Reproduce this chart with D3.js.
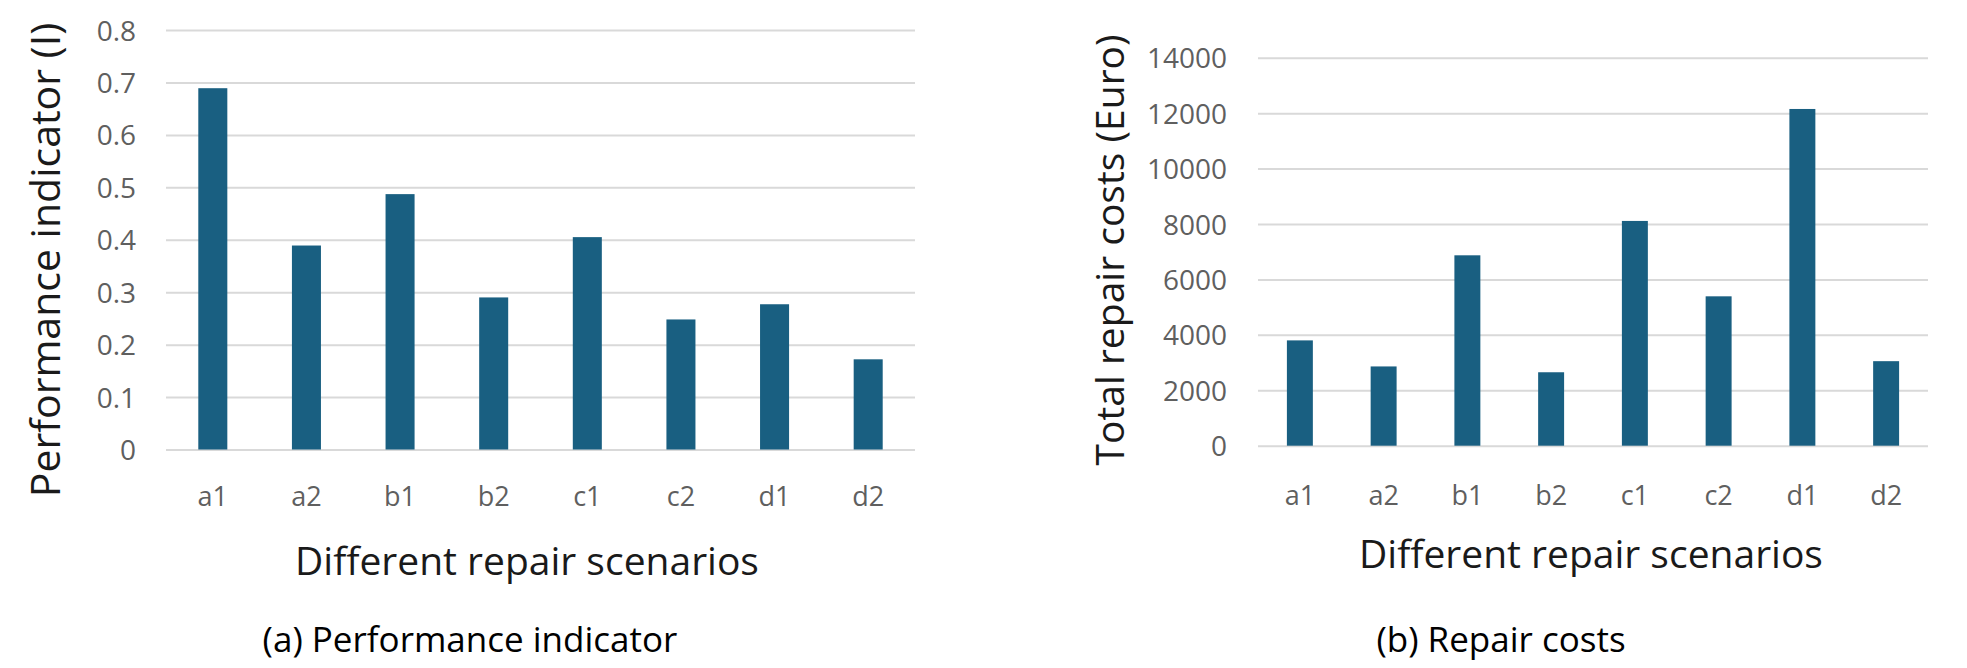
<!DOCTYPE html>
<html>
<head>
<meta charset="utf-8">
<script src="https://cdn.jsdelivr.net/npm/d3@7"></script>
<style>
  html, body { margin: 0; padding: 0; background: #ffffff; }
  svg { display: block; }
  text { font-family: "Open Sans", "Noto Sans", sans-serif; }
</style>
</head>
<body>
<svg id="chart" width="1967" height="668"></svg>
<script>
// ---------- data ----------
const scenarios = ["a1", "a2", "b1", "b2", "c1", "c2", "d1", "d2"];
const performanceValues = [0.689, 0.389, 0.487, 0.290, 0.405, 0.248, 0.277, 0.172];
const repairCosts = [3800, 2860, 6870, 2650, 8110, 5390, 12150, 3050];
const perfTicks = [0, 0.1, 0.2, 0.3, 0.4, 0.5, 0.6, 0.7, 0.8];
const costTicks = [0, 2000, 4000, 6000, 8000, 10000, 12000, 14000];
const perfTickLabels = ["0", "0.1", "0.2", "0.3", "0.4", "0.5", "0.6", "0.7", "0.8"];
const costTickLabels = ["0", "2000", "4000", "6000", "8000", "10000", "12000", "14000"];

const BAR = "#195f81";
const GRID = "#d9d9d9";
const TICK = "#5f5f5f";

const svg = d3.select("#chart");

function panel(cfg) {
  const x = d3.scaleBand()
    .domain(scenarios)
    .range([cfg.x0, cfg.x1])
    .paddingInner(0.69)
    .paddingOuter(0.345);
  const y = d3.scaleLinear().domain(cfg.domain).range([cfg.y0, cfg.y1]);

  const g = svg.append("g");

  // y axis with gridlines
  const yAxis = d3.axisLeft(y)
    .tickValues(cfg.ticks)
    .tickFormat((d, i) => cfg.tickLabels[i])
    .tickSize(-(cfg.x1 - cfg.x0))
    .tickPadding(cfg.tickPad);
  const ya = g.append("g").attr("transform", `translate(${cfg.x0},0)`).call(yAxis);
  ya.select(".domain").remove();
  ya.selectAll(".tick line").attr("stroke", GRID).attr("stroke-width", 2);
  ya.selectAll(".tick text")
    .attr("fill", TICK)
    .attr("font-size", 28)
    .attr("dy", "0.36em")
    .style("font-family", '"Open Sans", sans-serif');

  // bars
  g.append("g").selectAll("rect")
    .data(cfg.values)
    .join("rect")
    .attr("x", (d, i) => x(scenarios[i]))
    .attr("width", x.bandwidth())
    .attr("y", d => y(d))
    .attr("height", d => y(0) - y(d))
    .attr("fill", BAR);

  // x axis labels
  const xAxis = d3.axisBottom(x).tickSize(0).tickPadding(cfg.xPad);
  const xa = g.append("g").attr("transform", `translate(0,${cfg.y0})`).call(xAxis);
  xa.select(".domain").remove();
  xa.selectAll(".tick text")
    .attr("fill", TICK)
    .attr("font-size", 27)
    .style("font-family", '"Open Sans", sans-serif');

  // x axis title
  g.append("text")
    .attr("x", cfg.xTitleX)
    .attr("y", cfg.xTitleY)
    .attr("text-anchor", "middle")
    .attr("font-size", 39)
    .attr("fill", "#1a1a1a")
    .text("Different repair scenarios");

  // y axis title
  g.append("text")
    .attr("transform", `translate(${cfg.yTitleX},${cfg.yTitleY}) rotate(-90)`)
    .attr("text-anchor", "middle")
    .attr("font-size", cfg.yTitleSize)
    .attr("fill", "#1a1a1a")
    .text(cfg.yTitle);

  // caption
  g.append("text")
    .attr("x", cfg.capX)
    .attr("y", 652)
    .attr("text-anchor", "middle")
    .attr("font-size", 35)
    .attr("fill", "#000000")
    .text(cfg.caption);
}

panel({
  x0: 166, x1: 915, y0: 449.5, y1: 30,
  domain: [0, 0.8], ticks: perfTicks, tickLabels: perfTickLabels,
  values: performanceValues, tickPad: 30, xPad: 37,
  xTitleX: 527, xTitleY: 575,
  yTitle: "Performance indicator (I)", yTitleX: 60, yTitleY: 260, yTitleSize: 41,
  caption: "(a) Performance indicator", capX: 470
});

panel({
  x0: 1258, x1: 1928, y0: 445.7, y1: 57.7,
  domain: [0, 14000], ticks: costTicks, tickLabels: costTickLabels,
  values: repairCosts, tickPad: 31, xPad: 40,
  xTitleX: 1591, xTitleY: 568,
  yTitle: "Total repair costs (Euro)", yTitleX: 1124, yTitleY: 250, yTitleSize: 39,
  caption: "(b) Repair costs", capX: 1501
});
</script>
</body>
</html>
